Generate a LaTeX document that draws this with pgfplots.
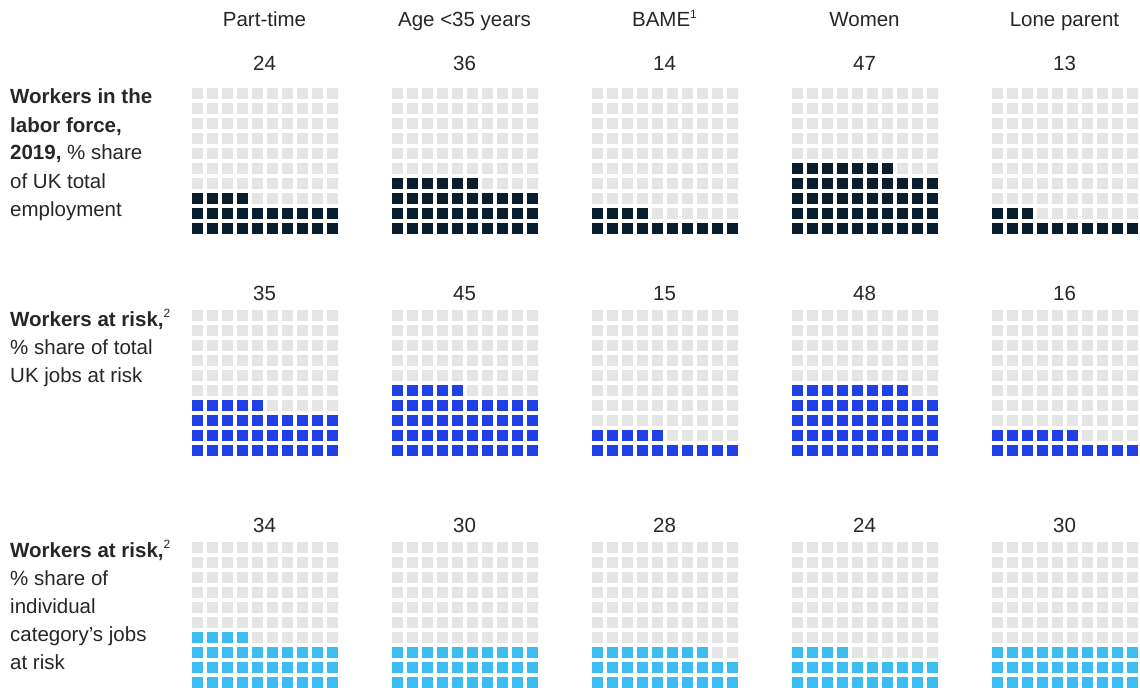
\documentclass[border=0pt]{standalone}
\usepackage{pgfplots}
\pgfplotsset{compat=1.18}
\usepackage{fontspec}
\setmainfont{Liberation Sans}

\definecolor{navy}{HTML}{0A1D2E}
\definecolor{riskblue}{HTML}{1F40E6}
\definecolor{skyblue}{HTML}{3BBDF2}
\definecolor{cellgray}{HTML}{E5E5E5}
\definecolor{ink}{HTML}{262626}

% small raised footnote marker
\newcommand\fn[1]{\raisebox{0.40em}{\fontsize{12}{12}\selectfont #1}}

% One 10x10 waffle: #1 column index, #2 centre y of the top row of cells,
% #3 value (number of filled cells), #4 fill colour, #5 baseline y of the value label
\newcommand\waffle[5]{%
  \addplot[only marks, mark=square*, mark size=5pt, color=cellgray,
    mark options={line width=0pt}, samples at={0,...,99}]
    ({197+200*#1+15*mod(\x,10)}, {#2+135-15*floor(\x/10)});
  \pgfmathtruncatemacro\wafflelast{#3-1}%
  \edef\wafflefill{\noexpand\addplot[only marks, mark=square*, mark size=5pt,
    color=#4, mark options={line width=0pt}, samples at={0,...,\wafflelast}]
    ({197+200*#1+15*mod(\noexpand\x,10)}, {#2+135-15*floor(\noexpand\x/10)});}%
  \wafflefill
  \node[anchor=base, text=ink] at (axis cs:{264.5+200*#1},#5) {#3};
}

\begin{document}
\begin{tikzpicture}[font=\fontsize{20.5}{28}\selectfont]
\begin{axis}[
  scale only axis, width=1140pt, height=687pt,
  xmin=0, xmax=1140, ymin=0, ymax=687, y dir=reverse,
  hide axis, clip=false,
]
\path[use as bounding box] (axis cs:0,0) rectangle (axis cs:1140,687);

% column headers
\node[anchor=base, text=ink] at (axis cs:264.5,27) {Part-time};
\node[anchor=base, text=ink] at (axis cs:464.5,27) {Age \textless35 years};
\node[anchor=base, text=ink] at (axis cs:664.5,27) {BAME\fn{1}};
\node[anchor=base, text=ink] at (axis cs:864.5,27) {Women};
\node[anchor=base, text=ink] at (axis cs:1064.5,27) {Lone parent};

% row labels
\begin{scope}[every node/.style={anchor=base west, inner sep=0pt, text=ink}]
\node at (axis cs:10,104) {\textbf{Workers in the}};
\node at (axis cs:10,132) {\textbf{labor force,}};
\node at (axis cs:10,160) {\textbf{2019,} \% share};
\node at (axis cs:10,188) {of UK total};
\node at (axis cs:10,216) {employment};

\node at (axis cs:10,326) {\textbf{Workers at risk,}\fn{2}};
\node at (axis cs:10,354) {\% share of total};
\node at (axis cs:10,382) {UK jobs at risk};

\node at (axis cs:10,557) {\textbf{Workers at risk,}\fn{2}};
\node at (axis cs:10,585) {\% share of};
\node at (axis cs:10,613) {individual};
\node at (axis cs:10,641) {category’s jobs};
\node at (axis cs:10,669) {at risk};
\end{scope}

% workers in the labor force, 2019
\waffle{0}{93.5}{24}{navy}{71}
\waffle{1}{93.5}{36}{navy}{71}
\waffle{2}{93.5}{14}{navy}{71}
\waffle{3}{93.5}{47}{navy}{71}
\waffle{4}{93.5}{13}{navy}{71}

% share of total UK jobs at risk
\waffle{0}{315}{35}{riskblue}{300}
\waffle{1}{315}{45}{riskblue}{300}
\waffle{2}{315}{15}{riskblue}{300}
\waffle{3}{315}{48}{riskblue}{300}
\waffle{4}{315}{16}{riskblue}{300}

% share of each category's jobs at risk
\waffle{0}{547.5}{34}{skyblue}{532}
\waffle{1}{547.5}{30}{skyblue}{532}
\waffle{2}{547.5}{28}{skyblue}{532}
\waffle{3}{547.5}{24}{skyblue}{532}
\waffle{4}{547.5}{30}{skyblue}{532}
\end{axis}
\end{tikzpicture}
\end{document}
